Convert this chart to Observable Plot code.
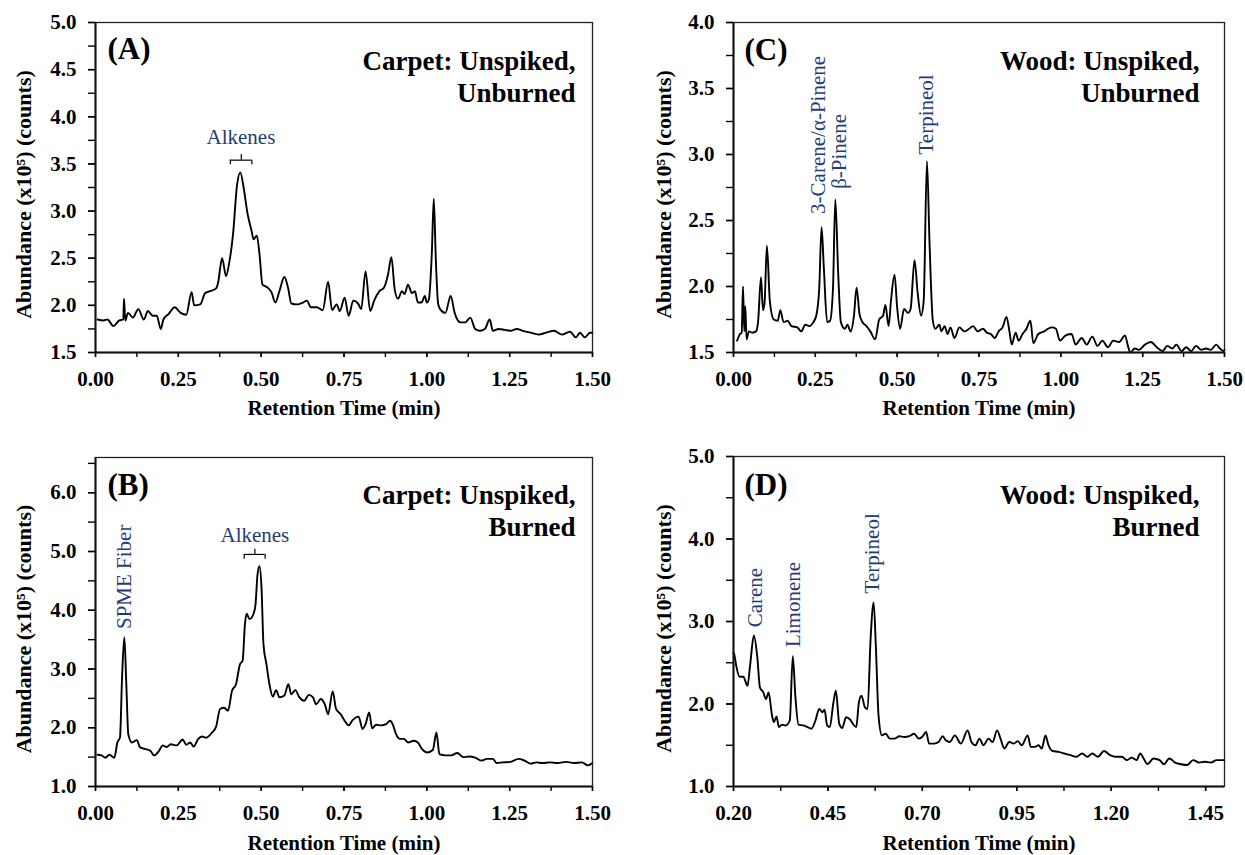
<!DOCTYPE html>
<html><head><meta charset="utf-8">
<script src="https://cdn.jsdelivr.net/npm/d3@7"></script>
<script src="https://cdn.jsdelivr.net/npm/@observablehq/plot@0.6"></script>
<style>
body{margin:0;background:#fff;}
#wrap{position:relative;width:1245px;height:855px;overflow:hidden;background:#fff;}
.panel{position:absolute;}
.panel svg{display:block;overflow:visible;}
</style></head><body><div id="wrap"></div>
<script>
// ---- data: [retention time (min), abundance (x10^5 counts)] ----
const carpetUnburned = [[0.006,1.85],[0.024,1.84],[0.036,1.85],[0.054,1.78],[0.072,1.84],[0.084,1.85],[0.086,2.07],[0.090,1.84],[0.098,1.92],[0.113,1.87],[0.129,1.96],[0.146,1.85],[0.158,1.94],[0.173,1.89],[0.185,1.89],[0.197,1.75],[0.205,1.85],[0.221,1.91],[0.239,1.98],[0.257,1.92],[0.274,1.90],[0.290,2.14],[0.298,2.00],[0.316,2.01],[0.331,2.13],[0.346,2.15],[0.364,2.18],[0.370,2.24],[0.382,2.50],[0.394,2.31],[0.403,2.44],[0.415,2.75],[0.427,3.27],[0.437,3.41],[0.447,3.25],[0.459,2.97],[0.471,2.79],[0.477,2.70],[0.487,2.74],[0.495,2.54],[0.504,2.22],[0.519,2.19],[0.531,2.14],[0.543,2.03],[0.555,2.15],[0.570,2.30],[0.581,2.19],[0.591,2.02],[0.609,2.01],[0.626,2.03],[0.638,2.05],[0.650,1.98],[0.668,1.98],[0.686,1.95],[0.702,2.25],[0.714,1.95],[0.728,2.01],[0.737,1.94],[0.752,2.08],[0.764,1.89],[0.778,2.05],[0.794,2.01],[0.802,1.96],[0.815,2.36],[0.829,1.94],[0.841,2.05],[0.857,2.15],[0.871,2.19],[0.883,2.33],[0.893,2.51],[0.903,2.17],[0.913,2.07],[0.925,2.15],[0.933,2.12],[0.943,2.22],[0.955,2.13],[0.964,2.15],[0.973,2.03],[0.984,2.03],[0.994,2.10],[1.000,2.03],[1.006,2.06],[1.015,2.55],[1.021,3.13],[1.027,2.50],[1.034,2.02],[1.040,1.96],[1.056,1.92],[1.072,2.10],[1.084,1.92],[1.101,1.82],[1.116,1.82],[1.131,1.87],[1.146,1.75],[1.160,1.73],[1.175,1.75],[1.190,1.85],[1.199,1.73],[1.217,1.75],[1.235,1.74],[1.253,1.73],[1.271,1.75],[1.289,1.73],[1.313,1.71],[1.337,1.69],[1.360,1.71],[1.384,1.73],[1.408,1.69],[1.432,1.72],[1.450,1.66],[1.462,1.71],[1.477,1.66],[1.492,1.71],[1.500,1.71]];

const carpetBurned = [[0.006,1.54],[0.018,1.53],[0.030,1.49],[0.042,1.54],[0.057,1.49],[0.066,1.75],[0.074,1.84],[0.080,2.83],[0.087,3.54],[0.093,2.74],[0.099,1.89],[0.110,1.75],[0.125,1.79],[0.134,1.67],[0.149,1.64],[0.165,1.61],[0.177,1.53],[0.191,1.60],[0.203,1.70],[0.215,1.67],[0.227,1.72],[0.245,1.70],[0.263,1.80],[0.274,1.71],[0.286,1.75],[0.296,1.68],[0.310,1.81],[0.322,1.85],[0.334,1.83],[0.352,1.92],[0.364,2.02],[0.376,2.32],[0.388,2.34],[0.400,2.29],[0.412,2.63],[0.424,2.74],[0.436,3.08],[0.444,3.14],[0.451,3.76],[0.456,3.94],[0.465,3.85],[0.477,3.94],[0.483,4.10],[0.489,4.61],[0.495,4.75],[0.501,4.39],[0.507,3.42],[0.516,3.08],[0.525,2.74],[0.535,2.53],[0.545,2.64],[0.555,2.52],[0.570,2.55],[0.582,2.74],[0.591,2.57],[0.603,2.64],[0.615,2.52],[0.630,2.46],[0.644,2.56],[0.656,2.52],[0.666,2.40],[0.680,2.49],[0.692,2.40],[0.702,2.23],[0.716,2.62],[0.726,2.32],[0.740,2.23],[0.752,2.12],[0.764,2.04],[0.776,2.13],[0.794,2.19],[0.806,1.98],[0.815,2.06],[0.826,2.26],[0.835,1.99],[0.847,2.05],[0.862,2.04],[0.877,2.06],[0.889,2.12],[0.897,2.06],[0.907,1.89],[0.919,1.81],[0.931,1.81],[0.943,1.75],[0.961,1.78],[0.973,1.75],[0.985,1.64],[1.002,1.58],[1.018,1.62],[1.029,1.92],[1.038,1.55],[1.056,1.53],[1.074,1.53],[1.092,1.57],[1.110,1.50],[1.128,1.51],[1.146,1.49],[1.164,1.44],[1.181,1.47],[1.199,1.47],[1.211,1.40],[1.229,1.41],[1.253,1.42],[1.277,1.47],[1.295,1.44],[1.313,1.39],[1.331,1.41],[1.348,1.40],[1.372,1.41],[1.396,1.40],[1.420,1.42],[1.444,1.40],[1.468,1.41],[1.486,1.36],[1.500,1.40]];

const woodUnburned = [[0.011,1.59],[0.020,1.64],[0.025,1.65],[0.029,2.00],[0.033,1.66],[0.036,1.85],[0.040,1.60],[0.047,1.66],[0.057,1.65],[0.069,1.66],[0.075,1.73],[0.084,2.07],[0.090,1.82],[0.095,1.88],[0.102,2.31],[0.111,1.89],[0.123,1.75],[0.135,1.74],[0.143,1.82],[0.153,1.73],[0.165,1.74],[0.177,1.70],[0.195,1.69],[0.207,1.66],[0.219,1.71],[0.232,1.70],[0.244,1.73],[0.253,1.78],[0.262,1.99],[0.269,2.45],[0.276,2.14],[0.286,1.73],[0.295,1.74],[0.304,1.99],[0.311,2.66],[0.320,2.09],[0.328,1.73],[0.340,1.68],[0.348,1.71],[0.358,1.66],[0.368,1.78],[0.376,1.99],[0.385,1.79],[0.394,1.73],[0.406,1.70],[0.418,1.66],[0.433,1.60],[0.445,1.75],[0.457,1.78],[0.464,1.86],[0.474,1.70],[0.481,1.89],[0.492,2.09],[0.500,1.84],[0.509,1.68],[0.521,1.83],[0.533,1.80],[0.541,1.83],[0.553,2.20],[0.563,1.94],[0.573,1.78],[0.581,1.89],[0.591,2.95],[0.599,2.32],[0.609,1.74],[0.617,1.68],[0.629,1.71],[0.635,1.66],[0.645,1.70],[0.654,1.64],[0.663,1.69],[0.675,1.61],[0.690,1.69],[0.705,1.66],[0.720,1.68],[0.732,1.70],[0.746,1.66],[0.762,1.68],[0.774,1.65],[0.786,1.64],[0.798,1.61],[0.810,1.66],[0.822,1.69],[0.834,1.77],[0.843,1.66],[0.850,1.56],[0.862,1.65],[0.871,1.59],[0.883,1.64],[0.895,1.68],[0.907,1.74],[0.916,1.57],[0.931,1.64],[0.949,1.66],[0.961,1.68],[0.973,1.69],[0.985,1.68],[0.997,1.59],[1.015,1.63],[1.033,1.64],[1.045,1.56],[1.064,1.61],[1.079,1.56],[1.096,1.62],[1.112,1.55],[1.127,1.59],[1.144,1.54],[1.160,1.59],[1.178,1.58],[1.196,1.63],[1.205,1.55],[1.212,1.50],[1.226,1.53],[1.238,1.52],[1.257,1.56],[1.275,1.58],[1.293,1.54],[1.311,1.51],[1.325,1.55],[1.341,1.53],[1.353,1.56],[1.369,1.51],[1.383,1.54],[1.398,1.51],[1.413,1.55],[1.429,1.52],[1.443,1.53],[1.458,1.52],[1.475,1.56],[1.486,1.53],[1.498,1.51],[1.500,1.52]];

const woodBurned = [[0.200,2.62],[0.202,2.60],[0.207,2.47],[0.216,2.33],[0.226,2.33],[0.237,2.22],[0.244,2.47],[0.254,2.83],[0.263,2.57],[0.270,2.20],[0.279,2.14],[0.286,2.06],[0.293,2.14],[0.302,1.86],[0.307,1.78],[0.314,1.85],[0.320,1.72],[0.328,1.75],[0.338,1.74],[0.349,1.80],[0.357,2.58],[0.364,2.08],[0.372,1.75],[0.385,1.74],[0.396,1.72],[0.406,1.70],[0.417,1.80],[0.427,1.94],[0.435,1.90],[0.441,1.93],[0.448,1.74],[0.455,1.72],[0.464,2.00],[0.471,2.16],[0.480,1.76],[0.488,1.71],[0.498,1.84],[0.509,1.81],[0.516,1.76],[0.525,1.72],[0.532,2.02],[0.539,2.10],[0.548,1.96],[0.555,1.94],[0.563,2.79],[0.571,3.23],[0.577,2.69],[0.584,1.86],[0.593,1.62],[0.603,1.64],[0.614,1.58],[0.626,1.58],[0.639,1.61],[0.652,1.60],[0.666,1.61],[0.678,1.64],[0.691,1.58],[0.699,1.60],[0.710,1.66],[0.718,1.52],[0.731,1.52],[0.743,1.54],[0.754,1.61],[0.762,1.56],[0.773,1.54],[0.786,1.62],[0.802,1.52],[0.820,1.68],[0.830,1.54],[0.841,1.50],[0.851,1.58],[0.862,1.50],[0.875,1.58],[0.886,1.54],[0.898,1.68],[0.907,1.58],[0.917,1.46],[0.930,1.54],[0.942,1.52],[0.953,1.55],[0.963,1.50],[0.979,1.62],[0.987,1.48],[0.998,1.48],[1.008,1.50],[1.016,1.46],[1.026,1.62],[1.034,1.50],[1.045,1.43],[1.061,1.42],[1.076,1.40],[1.092,1.38],[1.108,1.36],[1.123,1.40],[1.137,1.36],[1.150,1.40],[1.165,1.36],[1.181,1.43],[1.197,1.38],[1.212,1.36],[1.228,1.36],[1.242,1.32],[1.254,1.35],[1.267,1.32],[1.277,1.40],[1.286,1.34],[1.296,1.27],[1.312,1.34],[1.328,1.32],[1.340,1.27],[1.354,1.34],[1.369,1.29],[1.385,1.27],[1.401,1.26],[1.417,1.32],[1.433,1.29],[1.448,1.30],[1.464,1.29],[1.479,1.32],[1.500,1.32]];

// ---- ticks ----
const xTicksFull   = [0,0.125,0.25,0.375,0.5,0.625,0.75,0.875,1,1.125,1.25,1.375,1.5];
const xLabelsFull  = [0,0.25,0.5,0.75,1,1.25,1.5];
const xTicksD      = [0.2,0.325,0.45,0.575,0.7,0.825,0.95,1.075,1.2,1.325,1.45];
const xLabelsD     = [0.2,0.45,0.7,0.95,1.2,1.45];
const yTicksA  = [1.5,1.75,2,2.25,2.5,2.75,3,3.25,3.5,3.75,4,4.25,4.5,4.75,5];
const yLabelsA = [1.5,2,2.5,3,3.5,4,4.5,5];
const yTicksB  = [1,1.5,2,2.5,3,3.5,4,4.5,5,5.5,6,6.5];
const yLabelsB = [1,2,3,4,5,6];
const yTicksC  = [1.5,1.75,2,2.25,2.5,2.75,3,3.25,3.5,3.75,4];
const yLabelsC = [1.5,2,2.5,3,3.5,4];
const yTicksD  = [1,1.5,2,2.5,3,3.5,4,4.5,5];
const yLabelsD = [1,2,3,4,5];

// ---- text ----
const xTitle = "Retention Time (min)";
const yTitle = "Abundance (x10\u2075) (counts)";
const labelsA = [{x:0.439,y:3.78,text:"Alkenes",rot:0}];
const labelsB = [{x:0.481,y:5.28,text:"Alkenes",rot:0},{x:0.086,y:3.68,text:"SPME Fiber",rot:-90}];
const labelsC = [{x:0.258,y:2.55,text:"3-Carene/\u03B1-Pinene",rot:-90},{x:0.322,y:2.74,text:"\u03B2-Pinene",rot:-90},{x:0.590,y:3.00,text:"Terpineol",rot:-90}];
const labelsD = [{x:0.2565,y:2.93,text:"Carene",rot:-90},{x:0.359,y:2.69,text:"Limonene",rot:-90},{x:0.568,y:3.34,text:"Terpineol",rot:-90}];
const bracketsA = [{x1:0.407,x2:0.472,xc:0.440,y:3.54,yEnd:3.49,yTop:3.60}];
const bracketsB = [{x1:0.449,x2:0.512,xc:0.481,y:4.95,yEnd:4.87,yTop:5.04}];

const SERIF = '"Liberation Serif","Times New Roman",Times,serif';
const BLUE = "#1f3c7a";

function panel(o) {
  const pts = o.data.map(([t, a]) => ({t, a}));
  const rot = o.labels.filter(d => d.rot !== 0), flat = o.labels.filter(d => d.rot === 0);
  const ends = o.brackets.flatMap(b => [{x: b.x1, y1: b.y, y2: b.yEnd}, {x: b.x2, y1: b.y, y2: b.yEnd}, {x: b.xc, y1: b.y, y2: b.yTop}]);
  return Plot.plot({
    width: o.width, height: o.height,
    marginLeft: o.ml, marginRight: o.mr, marginTop: o.mt, marginBottom: o.mb,
    style: {fontFamily: SERIF, fontSize: "21px", fontWeight: "bold", color: "#000", background: "transparent", overflow: "visible"},
    x: {domain: o.xDomain},
    y: {domain: o.yDomain},
    marks: [
      Plot.axisX(o.xTicks, {tickSize: 5, tickFormat: () => "", strokeWidth: 1.4, label: null}),
      Plot.axisX(o.xLabels, {tickSize: 5, tickPadding: 14, tickFormat: d3.format(".2f"), strokeWidth: 1.4, label: null, fontSize: 21, fontWeight: "bold"}),
      Plot.axisY(o.yTicks, {tickSize: 7, tickFormat: () => "", strokeWidth: 1.4, label: null}),
      Plot.axisY(o.yLabels, {tickSize: 7, tickPadding: 12, tickFormat: d3.format(".1f"), strokeWidth: 1.4, label: null, fontSize: 21, fontWeight: "bold"}),
      Plot.line(pts, {x: "t", y: "a", curve: "monotone-x", stroke: "#000", strokeWidth: 1.9}),
      Plot.frame({stroke: "#222", strokeWidth: 1.3}),
      Plot.ruleX([o.xDomain[0]], {stroke: "#111", strokeWidth: 2}),
      Plot.ruleY([o.yDomain[0]], {stroke: "#111", strokeWidth: 2}),
      Plot.ruleY(o.brackets, {x1: "x1", x2: "x2", y: "y", stroke: "#000", strokeWidth: 1.2}),
      Plot.ruleX(ends, {x: "x", y1: "y1", y2: "y2", stroke: "#000", strokeWidth: 1.2}),
      Plot.text(flat, {x: "x", y: "y", text: "text", fill: BLUE, fontSize: 21, fontWeight: "normal", lineAnchor: "middle", textAnchor: "middle"}),
      Plot.text(rot, {x: "x", y: "y", text: "text", rotate: -90, fill: BLUE, fontSize: 21, fontWeight: "normal", lineAnchor: "middle", textAnchor: "start"}),
      Plot.text([o.letter], {text: d => d, frameAnchor: "top-left", textAnchor: "start", lineAnchor: "top", dx: o.letterDx, dy: o.letterDy, fontSize: 31, fontWeight: "bold"}),
      Plot.text([o.title], {text: d => d, frameAnchor: "top-right", textAnchor: "end", lineAnchor: "top", dx: o.titleDx, dy: o.titleDy, fontSize: 27, lineHeight: 1.2, fontWeight: "bold"}),
      Plot.text([xTitle], {text: d => d, frameAnchor: "bottom", textAnchor: "middle", lineAnchor: "middle", dy: o.xTitleDy, fontSize: 21, fontWeight: "bold"}),
      Plot.text([yTitle], {text: d => d, frameAnchor: "left", textAnchor: "middle", lineAnchor: "middle", rotate: -90, dx: o.yTitleDx, dy: 7, fontSize: 22, fontWeight: "bold"})
    ]
  });
}

const wrap = document.getElementById("wrap");
function place(el, left, top) {
  const d = document.createElement("div");
  d.className = "panel"; d.style.left = left + "px"; d.style.top = top + "px";
  d.appendChild(el); wrap.appendChild(d);
}

place(panel({data: carpetUnburned, width: 622, height: 428, ml: 95, mr: 30, mt: 22, mb: 76,
  xDomain: [0, 1.5], yDomain: [1.5, 5], xTicks: xTicksFull, xLabels: xLabelsFull, yTicks: yTicksA, yLabels: yLabelsA,
  labels: labelsA, brackets: bracketsA, letter: "(A)", title: "Carpet: Unspiked,\nUnburned",
  letterDx: 12, letterDy: 14, titleDx: -17, titleDy: 24, xTitleDy: 56, yTitleDx: -72}), 0, 0);

place(panel({data: carpetBurned, width: 622, height: 427, ml: 95, mr: 30, mt: 29, mb: 69,
  xDomain: [0, 1.5], yDomain: [1, 6.6], xTicks: xTicksFull, xLabels: xLabelsFull, yTicks: yTicksB, yLabels: yLabelsB,
  labels: labelsB, brackets: bracketsB, letter: "(B)", title: "Carpet: Unspiked,\nBurned",
  letterDx: 12, letterDy: 15, titleDx: -17, titleDy: 23, xTitleDy: 57, yTitleDx: -72}), 0, 428);

place(panel({data: woodUnburned, width: 623, height: 428, ml: 111, mr: 21, mt: 22, mb: 76,
  xDomain: [0, 1.5], yDomain: [1.5, 4], xTicks: xTicksFull, xLabels: xLabelsFull, yTicks: yTicksC, yLabels: yLabelsC,
  labels: labelsC, brackets: [], letter: "(C)", title: "Wood: Unspiked,\nUnburned",
  letterDx: 11, letterDy: 15, titleDx: -25, titleDy: 24, xTitleDy: 56, yTitleDx: -70}), 622, 0);

place(panel({data: woodBurned, width: 623, height: 427, ml: 111, mr: 21, mt: 28, mb: 69,
  xDomain: [0.2, 1.5], yDomain: [1, 5], xTicks: xTicksD, xLabels: xLabelsD, yTicks: yTicksD, yLabels: yLabelsD,
  labels: labelsD, brackets: [], letter: "(D)", title: "Wood: Unspiked,\nBurned",
  letterDx: 11, letterDy: 16, titleDx: -25, titleDy: 24, xTitleDy: 57, yTitleDx: -70}), 622, 428);
</script></body></html>
